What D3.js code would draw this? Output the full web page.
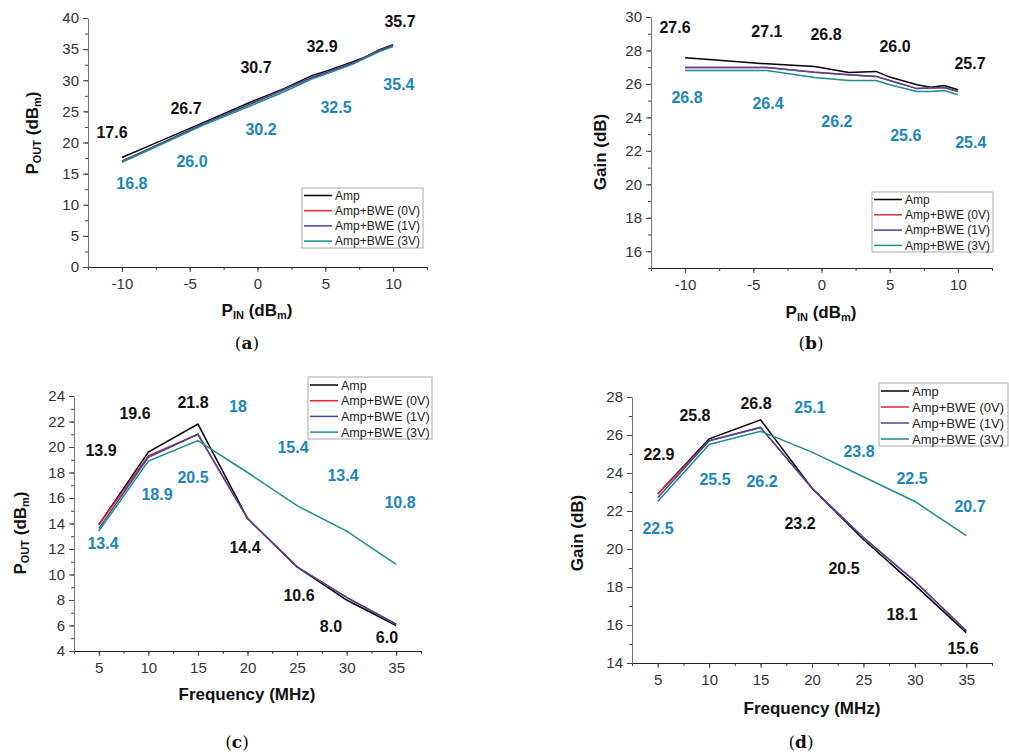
<!DOCTYPE html>
<html>
<head>
<meta charset="utf-8">
<script src="https://cdn.jsdelivr.net/npm/d3@7"></script>
<style>
  body { margin: 0; background: #fff; }
  svg { display: block; font-family: Arial, "Liberation Sans", sans-serif; }
</style>
</head>
<body>
<svg id="chart" width="1009" height="752"></svg>
<script>
// ---- data ----
const seriesNames = ['Amp', 'Amp+BWE (0V)', 'Amp+BWE (1V)', 'Amp+BWE (3V)'];
const seriesColors = ['#000000', '#e8262a', '#4646a8', '#17918a'];

// (a) and (b): input power sweep
const pin = [-10, -8, -4, -0.5, 2, 4, 5, 7, 8, 9, 10];
const poutAmp = [17.6, 19.45, 23.2, 26.5, 28.7, 30.75, 31.4, 32.95, 33.8, 34.9, 35.7];
const pout0V  = [17.0, 18.98, 23.0, 26.2, 28.55, 30.45, 31.2, 32.72, 33.75, 34.78, 35.55];
const pout1V  = [17.0, 18.98, 23.0, 26.2, 28.55, 30.45, 31.2, 32.72, 33.75, 34.78, 35.55];
const pout3V  = [16.8, 18.8, 22.8, 25.9, 28.2, 30.2, 30.95, 32.55, 33.6, 34.6, 35.4];

const gainAmp = [27.56, 27.45, 27.2, 27.04, 26.69, 26.75, 26.41, 25.95, 25.8, 25.9, 25.65];
const gain0V  = [26.98, 26.98, 26.98, 26.7, 26.55, 26.45, 26.2, 25.72, 25.75, 25.78, 25.55];
const gain1V  = [26.98, 26.98, 26.98, 26.7, 26.55, 26.45, 26.2, 25.72, 25.75, 25.78, 25.55];
const gain3V  = [26.8, 26.8, 26.8, 26.38, 26.2, 26.2, 25.95, 25.55, 25.55, 25.6, 25.35];

// (c) and (d): frequency sweep
const freq = [5, 10, 15, 20, 25, 30, 35];
const fPoutAmp = [13.9, 19.6, 21.8, 14.4, 10.6, 8.0, 6.0];
const fPout0V  = [13.9, 19.3, 21.0, 14.4, 10.6, 8.2, 6.1];
const fPout1V  = [13.6, 19.2, 21.0, 14.4, 10.6, 8.2, 6.1];
const fPout3V  = [13.4, 18.9, 20.5, 18.0, 15.4, 13.4, 10.8];

const fGainAmp = [22.9, 25.8, 26.8, 23.2, 20.5, 18.1, 15.6];
const fGain0V  = [22.9, 25.7, 26.4, 23.2, 20.6, 18.3, 15.7];
const fGain1V  = [22.7, 25.7, 26.4, 23.2, 20.6, 18.3, 15.7];
const fGain3V  = [22.5, 25.5, 26.2, 25.1, 23.8, 22.5, 20.7];

// value labels: [text, x, y] in data units
const labelsA_amp = [['17.6', -10.73, 21.7], ['26.7', -5.27, 25.5], ['30.7', -0.11, 32.1], ['32.9', 4.76, 35.5], ['35.7', 10.51, 39.4]];
const labelsA_bwe = [['16.8', -9.26, 13.5], ['26.0', -4.83, 17.0], ['30.2', 0.26, 22.2], ['32.5', 5.79, 25.7], ['35.4', 10.43, 29.4]];
const labelsB_amp = [['27.6', -10.74, 29.4], ['27.1', -4.0, 29.16], ['26.8', 0.33, 28.98], ['26.0', 5.39, 28.27], ['25.7', 10.89, 27.25]];
const labelsB_bwe = [['26.8', -9.86, 25.22], ['26.4', -3.92, 24.86], ['26.2', 1.13, 23.78], ['25.6', 6.18, 22.95], ['25.4', 10.94, 22.53]];
const labelsC_amp = [['13.9', 5.22, 19.76], ['19.6', 8.65, 22.67], ['21.8', 14.5, 23.53], ['14.4', 19.75, 12.16], ['10.6', 25.2, 8.39], ['8.0', 28.42, 5.96], ['6.0', 34.07, 5.1]];
const labelsC_bwe = [['13.4', 5.43, 12.47], ['18.9', 10.87, 16.31], ['20.5', 14.5, 17.65], ['18', 19.04, 23.2], ['15.4', 24.59, 20.0], ['13.4', 29.63, 17.8], ['10.8', 35.38, 15.69]];
const labelsD_amp = [['22.9', 5.12, 25.0], ['25.8', 8.62, 27.05], ['26.8', 14.56, 27.68], ['23.2', 18.83, 21.37], ['20.5', 23.11, 19.0], ['18.1', 28.75, 16.58], ['15.6', 34.68, 14.79]];
const labelsD_bwe = [['22.5', 5.03, 21.1], ['25.5', 10.57, 23.68], ['26.2', 15.14, 23.58], ['25.1', 19.8, 27.47], ['23.8', 24.57, 25.16], ['22.5', 29.72, 23.74], ['20.7', 35.36, 22.26]];

const pinTicks = [-10, -5, 0, 5, 10];
const freqTicks = [5, 10, 15, 20, 25, 30, 35];

// ---- drawing ----
const svg = d3.select('#chart');
const annBlue = '#1a86c0';

function drawPanel(p) {
  const x = d3.scaleLinear().domain(p.xDomain).range(p.xRange);
  const y = d3.scaleLinear().domain(p.yDomain).range(p.yRange);
  const g = svg.append('g');

  // minor ticks
  g.append('g').attr('transform', `translate(0,${p.yRange[0]})`)
    .call(d3.axisBottom(x).tickValues(p.xMinor).tickSize(3).tickFormat(''))
    .call(s => s.select('.domain').remove());
  g.append('g').attr('transform', `translate(${p.xRange[0]},0)`)
    .call(d3.axisLeft(y).tickValues(p.yMinor).tickSize(3).tickFormat(''))
    .call(s => s.select('.domain').remove());

  // major axes
  const xa = g.append('g').attr('transform', `translate(0,${p.yRange[0]})`)
    .call(d3.axisBottom(x).tickValues(p.xTicks).tickSize(5).tickSizeOuter(0).tickPadding(6));
  const ya = g.append('g').attr('transform', `translate(${p.xRange[0]},0)`)
    .call(d3.axisLeft(y).tickValues(p.yTicks).tickSize(5).tickSizeOuter(0).tickPadding(4));
  [xa, ya].forEach(a => {
    a.selectAll('text').attr('font-size', 15).attr('fill', '#333').attr('font-family', 'Arial, "Liberation Sans", sans-serif');
  });
  xa.select('.domain').attr('stroke', '#222');
  ya.select('.domain').attr('stroke', '#777');
  g.selectAll('.tick line').attr('stroke', '#444');
  xa.selectAll('text').text(d => d < 0 ? '-' + Math.abs(d) : d);

  // lines
  const line = d3.line().x(d => x(d[0])).y(d => y(d[1]));
  p.series.forEach((vals, i) => {
    g.append('path')
      .datum(p.xs.map((xv, j) => [xv, vals[j]]))
      .attr('d', line)
      .attr('fill', 'none')
      .attr('stroke', seriesColors[i])
      .attr('stroke-width', 1.5);
  });

  // value labels
  const addLabels = (arr, color) => arr.forEach(([t, lx, ly]) => {
    g.append('text').attr('x', x(lx)).attr('y', y(ly)).attr('dy', '0.36em')
      .attr('text-anchor', 'middle').attr('font-size', 16).attr('font-weight', 'bold')
      .attr('fill', color).text(t);
  });
  addLabels(p.labelsAmp, '#111');
  addLabels(p.labelsBwe, annBlue);

  // legend
  const L = p.legend;
  g.append('rect').attr('x', L.x).attr('y', L.y).attr('width', L.w).attr('height', L.h)
    .attr('fill', '#fff').attr('stroke', '#aaa').attr('stroke-width', 1);
  seriesNames.forEach((name, i) => {
    const ry = L.y + L.first + i * L.step;
    g.append('line').attr('x1', L.x + 2).attr('x2', L.x + 30).attr('y1', ry).attr('y2', ry)
      .attr('stroke', seriesColors[i]).attr('stroke-width', 1.5);
    g.append('text').attr('x', L.x + 33).attr('y', ry).attr('dy', '0.36em')
      .attr('font-size', L.fs).attr('fill', '#222').text(name);
  });

  // axis titles
  const midX = (p.xRange[0] + p.xRange[1]) / 2;
  const xt = g.append('text').attr('x', p.xTitle.x).attr('y', p.xTitle.y)
    .attr('text-anchor', 'middle').attr('font-size', 17).attr('font-weight', 'bold').attr('fill', '#111');
  p.xTitle.parts.forEach(([t, sub]) => {
    const ts = xt.append('tspan').text(t);
    if (sub) ts.attr('font-size', 11).attr('baseline-shift', '-30%');
  });
  const yt = g.append('text')
    .attr('transform', `translate(${p.yTitle.x},${p.yTitle.y}) rotate(-90)`)
    .attr('text-anchor', 'middle').attr('font-size', 17).attr('font-weight', 'bold').attr('fill', '#111');
  p.yTitle.parts.forEach(([t, sub]) => {
    const ts = yt.append('tspan').text(t);
    if (sub) ts.attr('font-size', 11).attr('baseline-shift', '-30%');
  });

  // caption
  const cap = svg.append('text').attr('x', p.caption.x).attr('y', p.caption.y)
    .attr('text-anchor', 'middle').attr('font-family', '"DejaVu Serif", "Liberation Serif", serif')
    .attr('font-size', 17).attr('fill', '#111');
  cap.append('tspan').text('(');
  cap.append('tspan').attr('font-weight', 'bold').text(p.caption.t);
  cap.append('tspan').text(')');
}

const range = (a, b, s) => d3.range(a, b + s / 2, s);

const poutTitle = [['P'], ['OUT', true], [' (dB'], ['m', true], [')']];
const pinTitle = [['P'], ['IN', true], [' (dB'], ['m', true], [')']];

drawPanel({
  xDomain: [-12.5, 12.5], yDomain: [0, 40], xRange: [88, 427], yRange: [267, 18],
  xTicks: pinTicks, xMinor: range(-12.5, 12.5, 2.5), yTicks: range(0, 40, 5), yMinor: range(0, 40, 2.5),
  xs: pin, series: [poutAmp, pout0V, pout1V, pout3V],
  labelsAmp: labelsA_amp, labelsBwe: labelsA_bwe,
  legend: { x: 302, y: 188, w: 121, h: 60, first: 7.5, step: 15.2, fs: 12 },
  xTitle: { x: 257, y: 316, parts: pinTitle },
  yTitle: { x: 38, y: 133, parts: poutTitle },
  caption: { x: 247, y: 349, t: 'a' }
});

drawPanel({
  xDomain: [-12.5, 12.5], yDomain: [15, 30], xRange: [651, 992], yRange: [268, 17],
  xTicks: pinTicks, xMinor: range(-12.5, 12.5, 2.5), yTicks: range(16, 30, 2), yMinor: range(15, 30, 1),
  xs: pin, series: [gainAmp, gain0V, gain1V, gain3V],
  labelsAmp: labelsB_amp, labelsBwe: labelsB_bwe,
  legend: { x: 872, y: 192, w: 121, h: 60, first: 7.5, step: 15.3, fs: 12 },
  xTitle: { x: 821, y: 318, parts: pinTitle },
  yTitle: { x: 606, y: 152, parts: [['Gain (dB)']] },
  caption: { x: 811, y: 349, t: 'b' }
});

drawPanel({
  xDomain: [2.5, 37.5], yDomain: [4, 24], xRange: [74, 421], yRange: [651, 396],
  xTicks: freqTicks, xMinor: range(2.5, 37.5, 2.5), yTicks: range(4, 24, 2), yMinor: range(4, 24, 1),
  xs: freq, series: [fPoutAmp, fPout0V, fPout1V, fPout3V],
  labelsAmp: labelsC_amp, labelsBwe: labelsC_bwe,
  legend: { x: 308, y: 377, w: 124, h: 62, first: 8, step: 15.7, fs: 12.5 },
  xTitle: { x: 247, y: 700, parts: [['Frequency (MHz)']] },
  yTitle: { x: 26, y: 533, parts: poutTitle },
  caption: { x: 237, y: 748, t: 'c' }
});

drawPanel({
  xDomain: [2.5, 37.5], yDomain: [14, 28], xRange: [632, 992], yRange: [663, 397],
  xTicks: freqTicks, xMinor: range(2.5, 37.5, 2.5), yTicks: range(14, 28, 2), yMinor: range(14, 28, 1),
  xs: freq, series: [fGainAmp, fGain0V, fGain1V, fGain3V],
  labelsAmp: labelsD_amp, labelsBwe: labelsD_bwe,
  legend: { x: 879, y: 383, w: 129, h: 63, first: 8, step: 16, fs: 13 },
  xTitle: { x: 812, y: 714, parts: [['Frequency (MHz)']] },
  yTitle: { x: 583, y: 533, parts: [['Gain (dB)']] },
  caption: { x: 801, y: 748, t: 'd' }
});
</script>
</body>
</html>
